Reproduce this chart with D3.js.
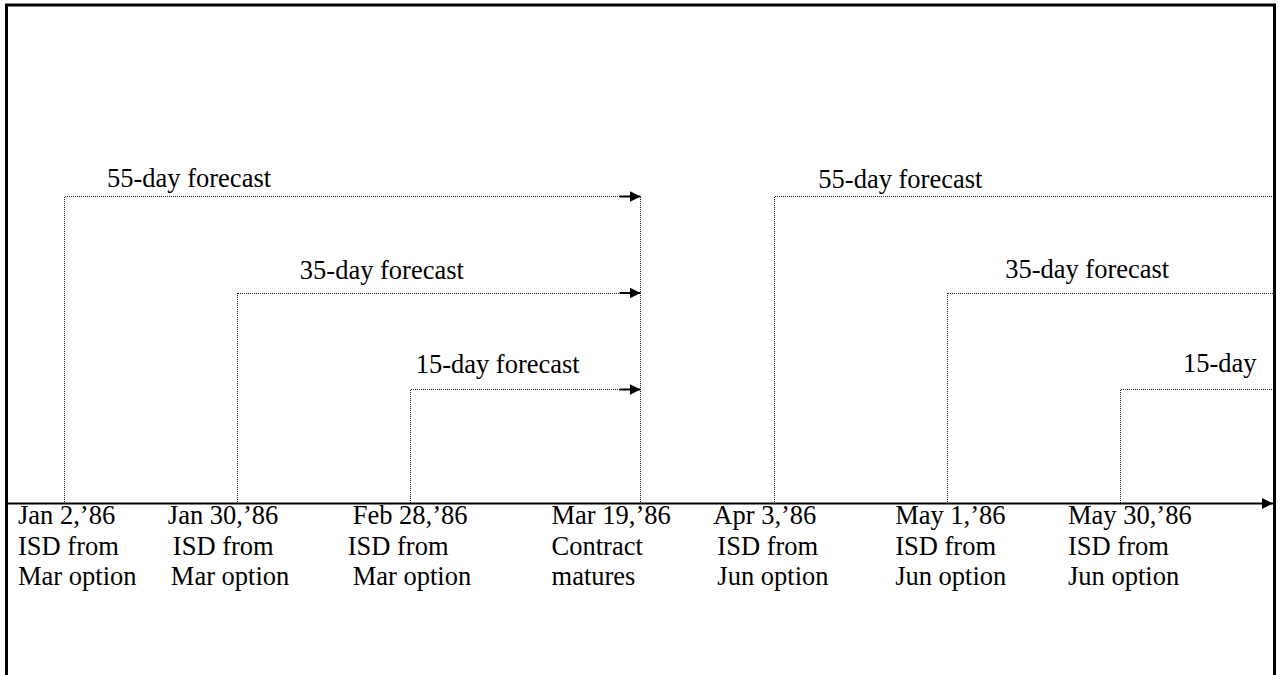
<!DOCTYPE html>
<html>
<head>
<meta charset="utf-8">
<script src="https://cdn.jsdelivr.net/npm/d3@7"></script>
<style>
  body { margin: 0; background: #fff; }
  text { font-family: "Liberation Serif", "Times New Roman", serif; font-size: 26.5px; fill: #000; }
</style>
</head>
<body>
<svg id="timeline" width="1284" height="675"></svg>
<script>
// events along the timeline (position = relative slot on the drawing, not calendar days)
const dates = ["Jan 2,\u201986", "Jan 30,\u201986", "Feb 28,\u201986", "Mar 19,\u201986", "Apr 3,\u201986", "May 1,\u201986", "May 30,\u201986"];
const notes1 = ["ISD from", "ISD from", "ISD from", "Contract", "ISD from", "ISD from", "ISD from"];
const notes2 = ["Mar option", "Mar option", "Mar option", "matures", "Jun option", "Jun option", "Jun option"];
const slots = [0, 1, 2, 3.33, 4.11, 5.11, 6.11];

// forecasts: horizon in days, start event index, label
const horizons = [55, 35, 15, 55, 35, 15];
const startIdx = [0, 1, 2, 4, 5, 6];
const targetIdx = [3, 3, 3, null, null, null];
const fcLabels = ["55-day forecast", "35-day forecast", "15-day forecast", "55-day forecast", "35-day forecast", "15-day"];

// label placement tweaks (pixels)
const fcLabelDx = [43, 63, 6, 44, 58, 63];
const fcLabelDy = [-10, -14, -17, -9, -15, -18];
const dateDx = [[-46, -46, -46], [-69, -64, -66], [-57, -62, -57], [-88, -88, -88], [-61, -57, -57], [-52, -52, -52], [-52, -52, -52]];

var svg = d3.select("#timeline"),
    axisY = 503.5,
    rightEdge = 1274;

var x = d3.scaleLinear().domain([0, 6.11]).range([64, 1120]),
    y = d3.scaleLinear().domain([55, 15]).range([196.5, 389.5]);

var defs = svg.append("defs");
defs.append("marker")
    .attr("id", "head")
    .attr("viewBox", "0 0 11 11")
    .attr("refX", 11).attr("refY", 5.5)
    .attr("markerWidth", 11).attr("markerHeight", 11)
    .attr("markerUnits", "userSpaceOnUse")
    .attr("orient", "auto")
    .append("path").attr("d", "M0,0L11,5.5L0,11Z").attr("fill", "#000");

// frame (bottom edge runs off the page)
svg.append("path")
    .attr("d", "M6.5,700V5H1274.5V700")
    .attr("fill", "none")
    .attr("stroke", "#000")
    .attr("stroke-width", 3);

// time axis
svg.append("line")
    .attr("x1", 7).attr("x2", 1273)
    .attr("y1", axisY).attr("y2", axisY)
    .attr("stroke", "#000").attr("stroke-width", 2)
    .attr("marker-end", "url(#head)");

var dotted = { stroke: "#222", width: 1, dash: "1,1" };

// forecast brackets
var fc = d3.range(horizons.length);

svg.selectAll(".fc-up")
    .data(fc).enter().append("line")
    .attr("x1", i => Math.round(x(slots[startIdx[i]])) + 0.5)
    .attr("x2", i => Math.round(x(slots[startIdx[i]])) + 0.5)
    .attr("y1", i => y(horizons[i]))
    .attr("y2", axisY - 1)
    .attr("stroke", dotted.stroke).attr("stroke-width", dotted.width)
    .attr("stroke-dasharray", dotted.dash)
    .attr("shape-rendering", "crispEdges");

svg.selectAll(".fc-run")
    .data(fc).enter().append("line")
    .attr("x1", i => Math.round(x(slots[startIdx[i]])) + 0.5)
    .attr("x2", i => targetIdx[i] === null ? rightEdge - 1 : x(slots[targetIdx[i]]) - 20)
    .attr("y1", i => y(horizons[i]))
    .attr("y2", i => y(horizons[i]))
    .attr("stroke", dotted.stroke).attr("stroke-width", dotted.width)
    .attr("stroke-dasharray", dotted.dash)
    .attr("shape-rendering", "crispEdges");

var arrows = fc.filter(i => targetIdx[i] !== null);
svg.selectAll(".fc-head")
    .data(arrows).enter().append("line")
    .attr("x1", i => x(slots[targetIdx[i]]) - 20)
    .attr("x2", i => x(slots[targetIdx[i]]) + 1)
    .attr("y1", i => y(horizons[i]))
    .attr("y2", i => y(horizons[i]))
    .attr("stroke", "#000").attr("stroke-width", 2)
    .attr("marker-end", "url(#head)");

// maturity drop line
var matX = Math.round(x(slots[3])) + 0.5;
svg.append("line")
    .attr("x1", matX).attr("x2", matX)
    .attr("y1", y(d3.max(horizons))).attr("y2", axisY - 1)
    .attr("stroke", dotted.stroke).attr("stroke-width", dotted.width)
    .attr("stroke-dasharray", dotted.dash)
    .attr("shape-rendering", "crispEdges");

svg.selectAll(".fc-label")
    .data(fc).enter().append("text")
    .attr("x", i => x(slots[startIdx[i]]) + fcLabelDx[i])
    .attr("y", i => y(horizons[i]) + fcLabelDy[i])
    .text(i => fcLabels[i]);

// event labels below the axis
var ev = svg.selectAll(".event")
    .data(dates).enter().append("g")
    .attr("class", "event");

ev.append("text")
    .attr("x", (d, i) => x(slots[i]) + dateDx[i][0])
    .attr("y", 524)
    .text(d => d);
ev.append("text")
    .attr("x", (d, i) => x(slots[i]) + dateDx[i][1])
    .attr("y", 554.5)
    .text((d, i) => notes1[i]);
ev.append("text")
    .attr("x", (d, i) => x(slots[i]) + dateDx[i][2])
    .attr("y", 585)
    .text((d, i) => notes2[i]);
</script>
</body>
</html>
